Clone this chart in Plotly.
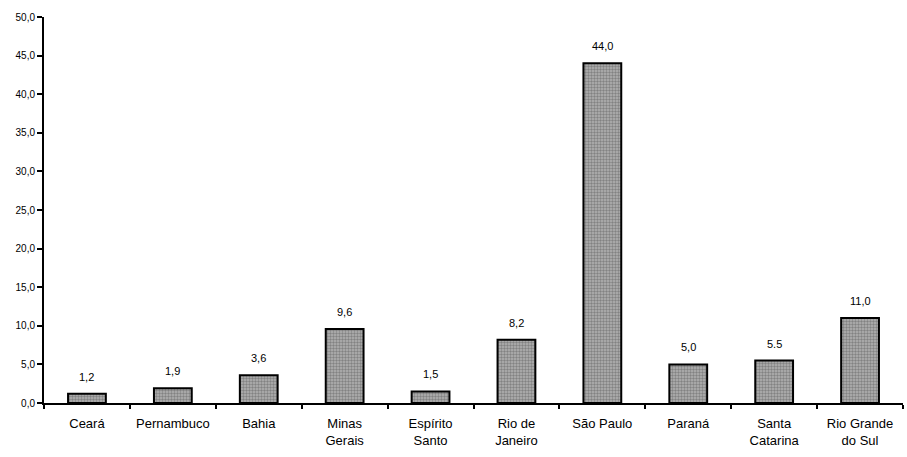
import plotly.graph_objects as go

# Participação por estado (%)
estados = ["Ceará", "Pernambuco", "Bahia", "Minas<br>Gerais", "Espírito<br>Santo",
           "Rio de<br>Janeiro", "São Paulo", "Paraná", "Santa<br>Catarina",
           "Rio Grande<br>do Sul"]
valores = [1.2, 1.9, 3.6, 9.6, 1.5, 8.2, 44.0, 5.0, 5.5, 11.0]
rotulos = ["1,2", "1,9", "3,6", "9,6", "1,5", "8,2", "44,0", "5,0", "5.5", "11,0"]
y_ticks = [0, 5, 10, 15, 20, 25, 30, 35, 40, 45, 50]

font_family = "Liberation Sans, Arial, sans-serif"

fig = go.Figure(
    go.Bar(
        x=estados,
        y=valores,
        width=0.44,
        marker=dict(
            color="#a0a0a0",
            line=dict(color="black", width=2),
            pattern=dict(shape=".", fgcolor="#505050", bgcolor="#b4b4b4",
                         size=3, solidity=0.5),
        ),
    )
)

# value labels placed just above each bar
for cat, val, txt in zip(estados, valores, rotulos):
    fig.add_annotation(
        x=cat, y=val, text=txt, showarrow=False,
        yanchor="bottom", yshift=9,
        font=dict(family=font_family, size=11, color="black"),
    )

fig.update_layout(
    width=907,
    height=457,
    margin=dict(l=44, r=4, t=17, b=54),
    paper_bgcolor="white",
    plot_bgcolor="white",
    separators=",.",
    showlegend=False,
    font=dict(family=font_family, color="black"),
)

fig.update_xaxes(
    type="category",
    tickson="boundaries",
    ticks="outside",
    ticklen=4,
    tickwidth=2,
    tickcolor="black",
    ticklabelstandoff=7,
    showline=True,
    linecolor="black",
    linewidth=2,
    showgrid=False,
    tickfont=dict(family=font_family, size=13, color="black"),
)

fig.update_yaxes(
    range=[0, 50],
    tickvals=y_ticks,
    tickformat=".1f",
    ticks="outside",
    ticklen=5,
    tickwidth=2,
    tickcolor="black",
    showline=True,
    linecolor="black",
    linewidth=2,
    showgrid=False,
    zeroline=False,
    tickfont=dict(family=font_family, size=10, color="black"),
)

fig.write_html("out.html")
